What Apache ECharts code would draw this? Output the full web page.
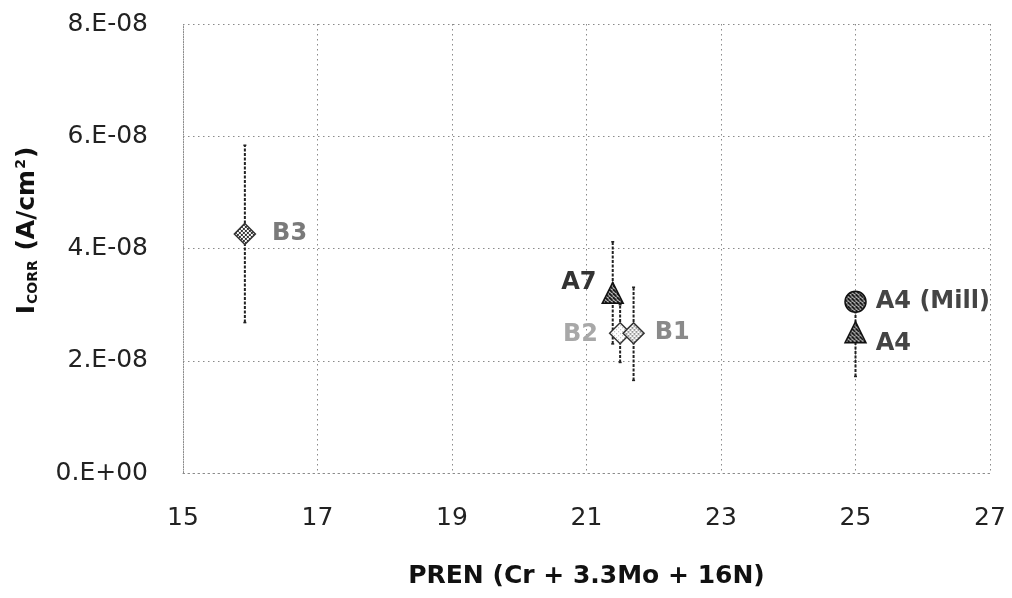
<!DOCTYPE html>
<html>
<head>
<meta charset="utf-8">
<script src="https://cdn.jsdelivr.net/npm/echarts@6/dist/echarts.min.js"></script>
<style>
html,body{margin:0;padding:0;background:#fff;}
#chart{width:1012px;height:598px;}
</style>
</head>
<body>
<div id="chart"></div>
<script>
// ---- data ----
var names   = ['B3', 'A7', 'B2', 'B1', 'A4 (Mill)', 'A4'];
var pren    = [15.92, 21.39, 21.5, 21.7, 25.0, 25.0];
var icorr   = [4.26e-8, 3.21e-8, 2.49e-8, 2.49e-8, 3.05e-8, 2.51e-8];
var errLow  = [2.68e-8, 2.30e-8, 1.97e-8, 1.65e-8, null, 1.72e-8];
var errHigh = [5.84e-8, 4.12e-8, 3.00e-8, 3.31e-8, null, 3.22e-8];
var xTicks  = [15, 17, 19, 21, 23, 25, 27];
var yTickLabels = ['0.E+00', '2.E-08', '4.E-08', '6.E-08', '8.E-08'];

// ---- fill patterns ----
function makePattern(kind, size) {
  var c = document.createElement('canvas');
  var n = 4;
  c.width = n; c.height = n;
  var g = c.getContext('2d');
  g.fillStyle = '#fff'; g.fillRect(0, 0, n, n);
  if (kind === 'hatch') {
    g.strokeStyle = '#111'; g.lineWidth = 2.2;
    for (var k = -n; k <= n; k += n) { g.beginPath(); g.moveTo(k, 0); g.lineTo(k + n, n); g.stroke(); }
  } else if (kind === 'checker') {
    g.fillStyle = '#333';
    g.fillRect(0, 0, 2, 2); g.fillRect(2, 2, 2, 2);
  } else if (kind === 'checkerLight') {
    g.fillStyle = '#555';
    g.fillRect(0, 0, 1.5, 1.5); g.fillRect(2, 2, 1.5, 1.5);
  } else {
    g.fillStyle = '#aaa';
    g.fillRect(0, 0, 1, 1); g.fillRect(2, 2, 1, 1);
  }
  // the symbol path is drawn at unit size and scaled by size/2, so undo that for the pattern
  return {image: c, repeat: 'repeat', scaleX: 2 / size, scaleY: 2 / size};
}

// ---- styles (per point, by index) ----
var pointStyles = [
  {symbol: 'diamond',  size: 21, fill: 'checker',      border: '#333', labelPos: 'right', labelColor: '#7a7a7a', dist: 16, dy: 0},
  {symbol: 'triangle', size: 21, fill: 'hatch',        border: '#111', labelPos: 'left',  labelColor: '#333',    dist: 5,  dy: -10},
  {symbol: 'diamond',  size: 21, fill: 'sparse',       border: '#333', labelPos: 'left',  labelColor: '#a8a8a8', dist: 11, dy: 2},
  {symbol: 'diamond',  size: 21, fill: 'checkerLight', border: '#333', labelPos: 'right', labelColor: '#8a8a8a', dist: 10, dy: 0},
  {symbol: 'circle',   size: 21, fill: 'hatch',        border: '#111', labelPos: 'right', labelColor: '#444',    dist: 9,  dy: 0},
  {symbol: 'triangle', size: 21, fill: 'hatch',        border: '#111', labelPos: 'right', labelColor: '#444',    dist: 9,  dy: 12}
];

var scatterData = names.map(function (n, i) {
  var s = pointStyles[i];
  return {
    name: n,
    value: [pren[i], icorr[i]],
    symbol: s.symbol,
    symbolSize: s.size,
    itemStyle: {color: makePattern(s.fill, s.size), borderColor: s.border, borderWidth: 1.5, opacity: 1},
    label: {show: true, position: s.labelPos, distance: s.dist, offset: [0, s.dy],
            formatter: n, color: s.labelColor, fontSize: 24, fontWeight: 'bold',
            fontFamily: 'DejaVu Sans'}
  };
});

var errData = [];
names.forEach(function (n, i) {
  if (errLow[i] != null) errData.push([pren[i], errLow[i], errHigh[i]]);
});

var gridDots = {color: '#8a8a8a', type: [1.5, 3.5], width: 1};
var base = {fontSize: 25, fontWeight: 'bold', fontFamily: 'DejaVu Sans', color: '#111', lineHeight: 26, verticalAlign: 'bottom'};

var chart = echarts.init(document.getElementById('chart'), null, {renderer: 'canvas'});
chart.setOption({
  animation: false,
  backgroundColor: '#fff',
  grid: {left: 183, right: 22, top: 24, bottom: 125, containLabel: false},
  xAxis: {
    type: 'value', min: xTicks[0], max: xTicks[xTicks.length - 1], interval: 2,
    name: 'PREN (Cr + 3.3Mo + 16N)', nameLocation: 'middle', nameGap: 91,
    nameTextStyle: {fontSize: 25, fontWeight: 'bold', color: '#111', fontFamily: 'DejaVu Sans'},
    axisLine: {show: true, lineStyle: gridDots},
    axisTick: {show: false},
    axisLabel: {fontSize: 25, color: '#222', margin: 33, fontFamily: 'DejaVu Sans'},
    splitLine: {show: true, lineStyle: gridDots}
  },
  yAxis: {
    type: 'value', min: 0, max: 8e-8, interval: 2e-8,
    name: '{i|I}{sub|CORR}{t| (A/cm}{sup|2}{t|)}', nameLocation: 'middle', nameGap: 143, nameRotate: 90,
    nameTextStyle: {
      color: '#111', fontFamily: 'DejaVu Sans', fontWeight: 'bold', fontSize: 25,
      padding: [0, 0, 0, 36],
      rich: {
        i:   base,
        t:   base,
        sub: {fontSize: 14, fontWeight: 'bold', fontFamily: 'DejaVu Sans', color: '#111', lineHeight: 26, verticalAlign: 'bottom', padding: [0, 1, 0, 1]},
        sup: {fontSize: 14, fontWeight: 'bold', fontFamily: 'DejaVu Sans', color: '#111', lineHeight: 26, verticalAlign: 'top', padding: [0, 1, 0, 1]}
      }
    },
    axisLine: {show: true, lineStyle: gridDots},
    axisTick: {show: false},
    axisLabel: {fontSize: 25, color: '#222', margin: 35, fontFamily: 'DejaVu Sans',
      formatter: function (v) { return yTickLabels[Math.round(v / 2e-8)]; }},
    splitLine: {show: true, lineStyle: gridDots}
  },
  series: [
    {
      type: 'custom', z: 1,
      data: errData,
      renderItem: function (params, api) {
        var x = api.value(0);
        var lo = api.coord([x, api.value(1)]);
        var hi = api.coord([x, api.value(2)]);
        var st = {stroke: '#222', lineWidth: 2, lineDash: [3, 1.5]};
        return {
          type: 'group',
          children: [
            {type: 'line', shape: {x1: lo[0], y1: lo[1], x2: hi[0], y2: hi[1]}, style: st},
            {type: 'line', shape: {x1: lo[0] - 1.5, y1: lo[1], x2: lo[0] + 1.5, y2: lo[1]}, style: {stroke: '#222', lineWidth: 1.5}},
            {type: 'line', shape: {x1: hi[0] - 1.5, y1: hi[1], x2: hi[0] + 1.5, y2: hi[1]}, style: {stroke: '#222', lineWidth: 1.5}}
          ]
        };
      }
    },
    {
      type: 'scatter', z: 3,
      data: scatterData
    }
  ]
});
</script>
</body>
</html>
